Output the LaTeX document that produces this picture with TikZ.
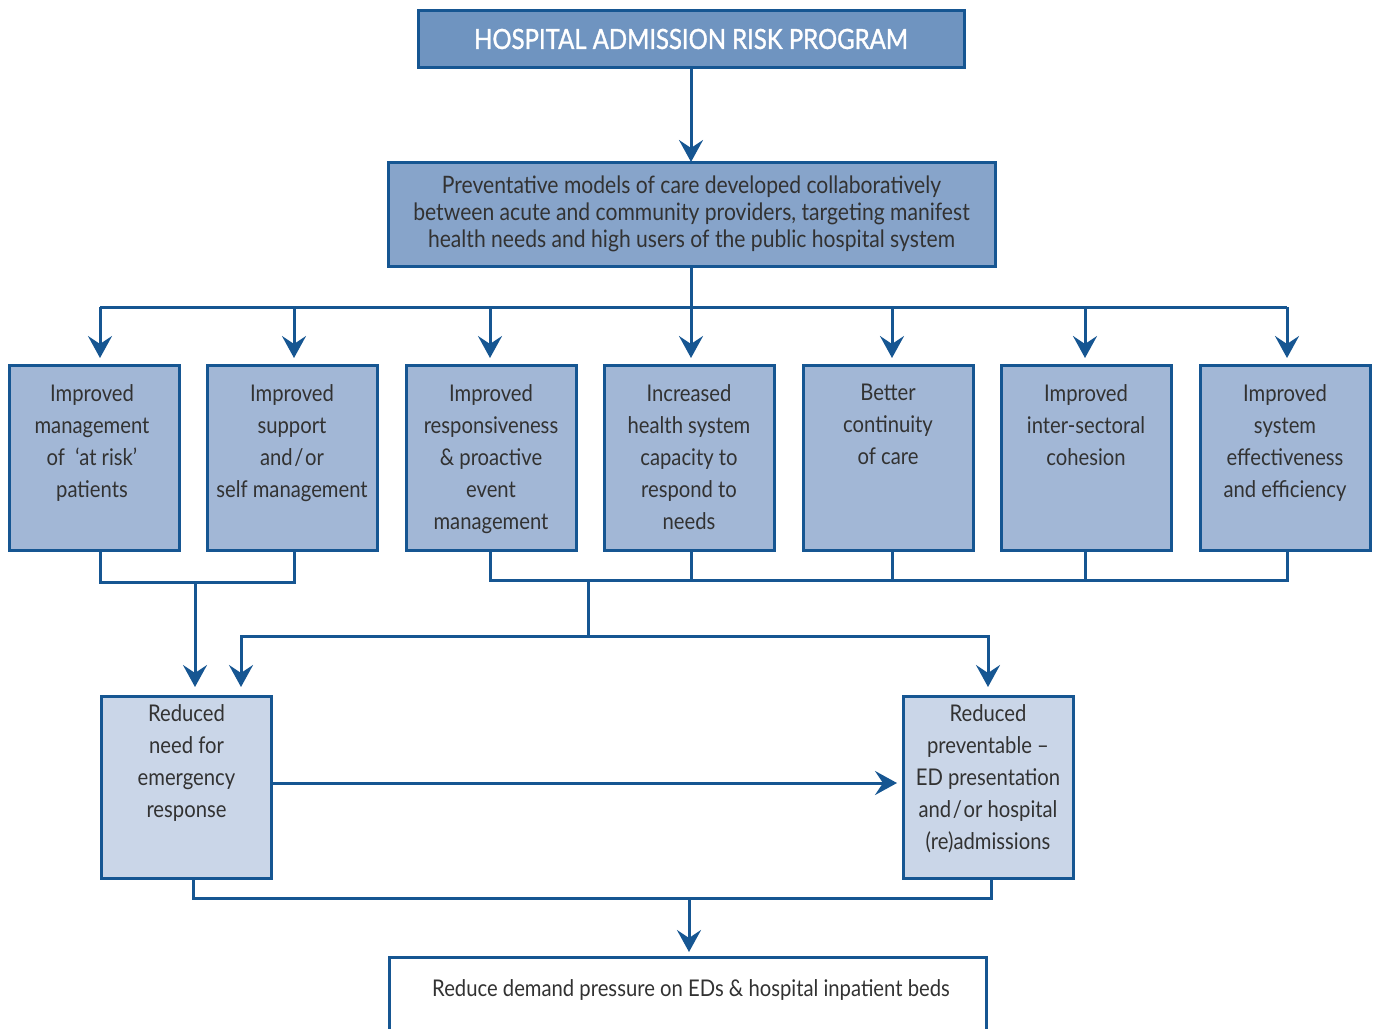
\documentclass[tikz,border=0pt]{standalone}
\usepackage{fontspec}
\setmainfont{Lato}[FakeStretch=0.88]
\newfontfamily\titlefont{Lato}[FakeStretch=0.86, FakeBold=1.2]
\usetikzlibrary{arrows.meta,calc}
\definecolor{ln}{RGB}{22,86,146}
\definecolor{cA}{RGB}{111,148,192}
\definecolor{cB}{RGB}{135,164,202}
\definecolor{cC}{RGB}{162,183,214}
\definecolor{cD}{RGB}{202,214,232}
\definecolor{txtc}{RGB}{50,50,50}
\tikzset{
  box/.style={draw=ln, line width=1.5pt, inner sep=0pt, outer sep=0pt},
  conn/.style={draw=ln, line width=1.5pt},
  arr/.style={conn, -{Stealth[length=11pt,width=12pt,inset=4pt]}},
  mtxt/.style={text=txtc, align=center, font=\fontsize{11.5}{16}\selectfont, inner sep=0pt, anchor=north},
  midbox/.style={box, fill=cC, minimum width=85pt, minimum height=92.5pt},
  lowbox/.style={box, fill=cD, minimum width=85pt, minimum height=91pt}
}
\begin{document}
\begin{tikzpicture}[x=0.5pt,y=-0.5pt]
\useasboundingbox (0,0) rectangle (1374,1028);

% top boxes
\node[box, fill=cA, minimum width=273pt, minimum height=28.5pt, text=white,
      font=\titlefont\fontsize{13.9}{15}\selectfont] (top) at (691,39) {HOSPITAL ADMISSION RISK PROGRAM};
\node[box, fill=cB, minimum width=303.5pt, minimum height=52pt, align=center, text=txtc,
      font=\fontsize{12}{13.5}\selectfont] (prev) at (691.5,214)
  {Preventative models of care developed collaboratively\\between acute and community providers, targeting manifest\\health needs and high users of the public hospital system};
\draw[arr] (top.south) -- (top.south |- prev.north);

% middle boxes
\node[midbox] (b1) at (94,457.5) {};
\node[midbox] (b2) at (292,457.5) {};
\node[midbox] (b3) at (491,457.5) {};
\node[midbox] (b4) at (689,457.5) {};
\node[midbox] (b5) at (888,457.5) {};
\node[midbox] (b6) at (1086,457.5) {};
\node[midbox] (b7) at (1285,457.5) {};

\node[mtxt] (t1) at (92,384) {Improved\\management\\of~~‘at risk’\\patients};
\node[mtxt] (t2) at (292,384) {Improved\\support\\and\kern0.8pt/\kern0.8pt or\\self management};
\node[mtxt] (t3) at (491,384) {Improved\\responsiveness\\\&~proactive\\event\\management};
\node[mtxt] (t4) at (689,384) {Increased\\health system\\capacity to\\respond to\\needs};
\node[mtxt] (t5) at (888,384) {Better\\continuity\\of care};
\node[mtxt] (t6) at (1086,384) {Improved\\inter-sectoral\\cohesion};
\node[mtxt] (t7) at (1285,384) {Improved\\system\\effectiveness\\and efficiency};

% connector x positions
\coordinate (k1) at (100,0);
\coordinate (k2) at (294,0);
\coordinate (k3) at (490,0);
\coordinate (k4) at (691,0);
\coordinate (k5) at (892,0);
\coordinate (k6) at (1085,0);
\coordinate (k7) at (1287,0);

% distribution bus
\coordinate (bus) at (691,307);
\draw[conn] (prev.south) -- (prev.south |- bus);
\draw[conn] (k1 |- bus) -- (k7 |- bus);
\foreach \i in {1,...,7}{
  \draw[arr, shorten >=3.5pt] (k\i |- bus) -- (k\i |- b\i.north);
}

% lower boxes
\node[lowbox] (rl) at (186.5,787) {};
\node[lowbox] (rr) at (988,787) {};
\node[mtxt] (tl) at (186.5,704) {Reduced\\need for\\emergency\\response};
\node[mtxt] (tr) at (988,704) {Reduced\\preventable –\\ED presentation\\and\kern0.8pt/\kern0.8pt or hospital\\(re)admissions};

% group 1
\coordinate (g1) at (195,582);
\draw[conn] (k1 |- b1.south) -- (k1 |- g1) -- (k2 |- g1) -- (k2 |- b2.south);
\draw[arr, shorten >=4.5pt] (g1) -- (g1 |- rl.north);

% group 2
\coordinate (g2) at (588,580);
\draw[conn] (k3 |- b3.south) -- (k3 |- g2) -- (k7 |- g2) -- (k7 |- b7.south);
\foreach \i in {4,5,6}{
  \draw[conn] (k\i |- b\i.south) -- (k\i |- g2);
}
\coordinate (h2) at (588,636);
\coordinate (aL) at (241,636);
\coordinate (aR) at (988,636);
\draw[conn] (g2) -- (h2);
\draw[arr, shorten >=4.5pt] (h2) -- (aL) -- (aL |- rl.north);
\draw[arr, shorten >=4.5pt] (h2) -- (aR) -- (aR |- rr.north);

% horizontal arrow
\coordinate (mid) at (0,783);
\draw[arr, shorten >=3pt] (rl.east |- mid) -- (rr.west |- mid);

% final
\node[box, fill=white, minimum width=298.5pt, minimum height=45pt] (fin) at (687.5,1002) {};
\node[text=txtc, font=\fontsize{11.5}{13}\selectfont, inner sep=0pt] (fint) at (691,990)
  {Reduce demand pressure on EDs \& hospital inpatient beds};
\coordinate (k8) at (193,0);
\coordinate (k9) at (991,0);
\coordinate (g3) at (689,898);
\draw[conn] (k8 |- rl.south) -- (k8 |- g3) -- (k9 |- g3) -- (k9 |- rr.south);
\draw[arr, shorten >=2.5pt] (g3) -- (g3 |- fin.north);
\end{tikzpicture}
\end{document}
